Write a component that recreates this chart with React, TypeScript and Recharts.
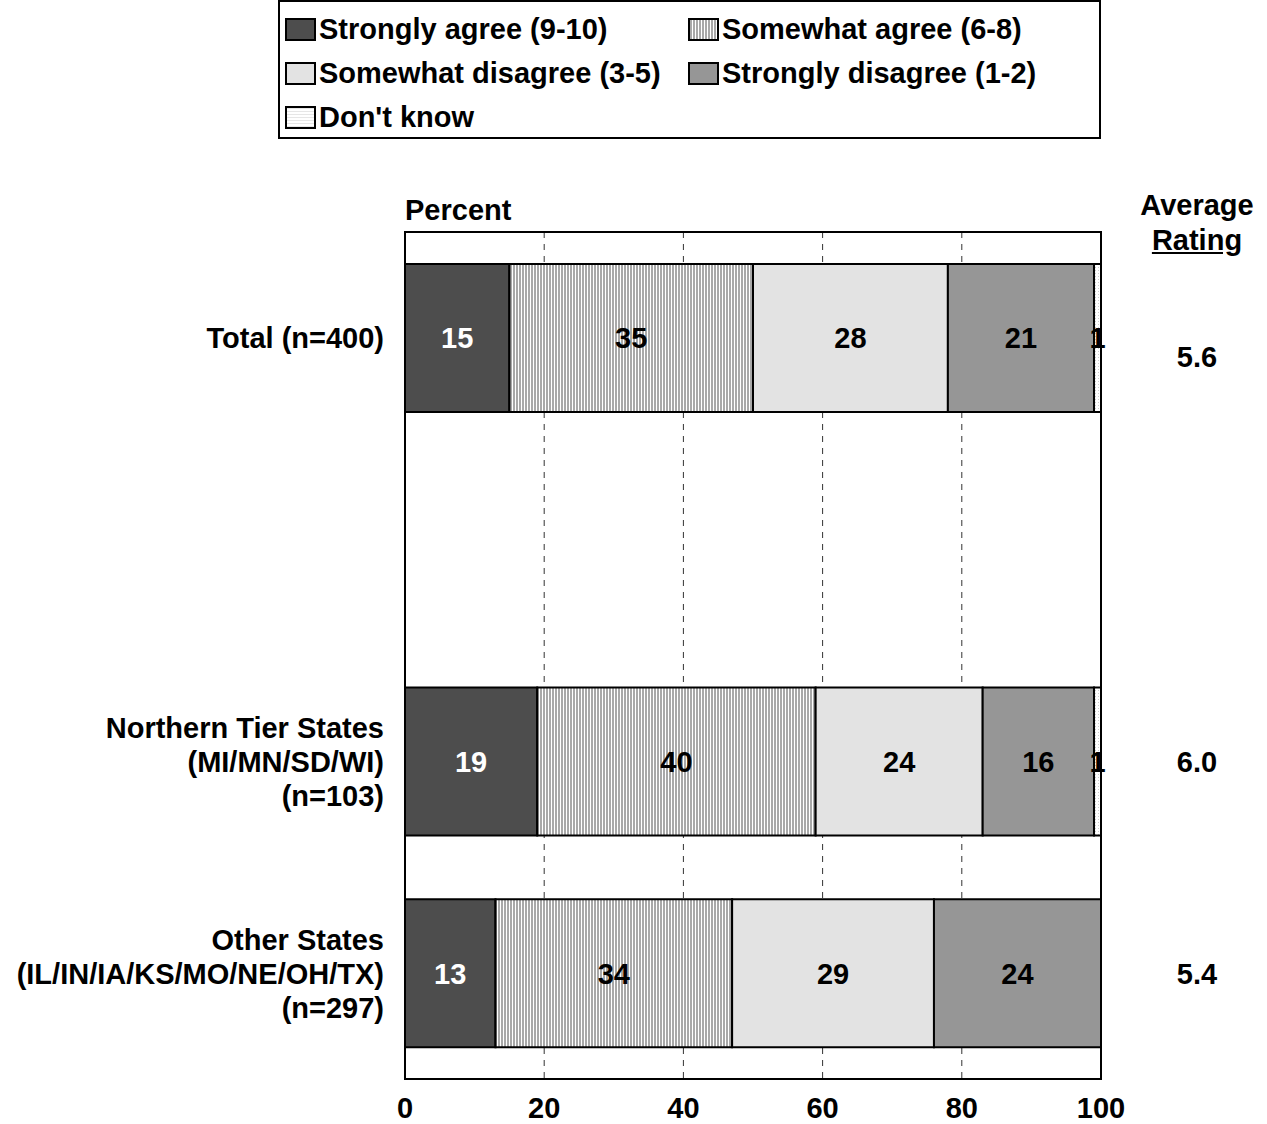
import React from 'react';
import {
  BarChart,
  Bar,
  XAxis,
  YAxis,
  CartesianGrid,
  LabelList,
  ReferenceArea,
} from 'recharts';

const categories = [
  'Total (n=400)',
  '',
  'Northern Tier States\n(MI/MN/SD/WI)\n(n=103)',
  'Other States\n(IL/IN/IA/KS/MO/NE/OH/TX)\n(n=297)',
];
const averageRatings = ['5.6', '', '6.0', '5.4'];

const stronglyAgree = [15, null, 19, 13];
const somewhatAgree = [35, null, 40, 34];
const somewhatDisagree = [28, null, 24, 29];
const stronglyDisagree = [21, null, 16, 24];
const dontKnow = [1, null, 1, 0];

const xTicks = [0, 20, 40, 60, 80, 100];

const series = [
  { key: 'sa', name: 'Strongly agree (9-10)', fill: '#4d4d4d', swatch: '#4d4d4d', labelColor: '#fff' },
  { key: 'swa', name: 'Somewhat agree (6-8)', fill: 'url(#stripes)', swatch: 'repeating-linear-gradient(90deg, #a8a8a8 0 2px, #fff 2px 3px)', labelColor: '#000' },
  { key: 'swd', name: 'Somewhat disagree (3-5)', fill: '#e3e3e3', swatch: '#e3e3e3', labelColor: '#000' },
  { key: 'sd', name: 'Strongly disagree (1-2)', fill: '#969696', swatch: '#969696', labelColor: '#000' },
  { key: 'dk', name: "Don't know", fill: 'url(#dots)', swatch: 'repeating-linear-gradient(0deg, #e6e6e6 0 1px, #fff 1px 3px)', labelColor: '#000' },
];

const data = categories.map((name, i) => ({
  name,
  avg: averageRatings[i],
  sa: stronglyAgree[i],
  swa: somewhatAgree[i],
  swd: somewhatDisagree[i],
  sd: stronglyDisagree[i],
  dk: dontKnow[i],
}));

const FONT = '"Liberation Sans", Arial, sans-serif';
const FS = 29;

const CategoryTick = (props: any) => {
  const { x, y, payload } = props;
  const lines = String(payload.value).split('\n').filter((l) => l);
  const lh = 34;
  return (
    <text x={x} y={y} textAnchor="end" fontFamily={FONT} fontWeight="bold" fontSize={FS} fill="#000">
      {lines.map((l, i) => (
        <tspan key={i} x={x} y={y + (i - (lines.length - 1) / 2) * lh} dy="0.36em">
          {l}
        </tspan>
      ))}
    </text>
  );
};

const RatingTick = (props: any) => {
  const { x, y, payload, index } = props;
  return (
    <text x={x + 96} y={y + (index === 0 ? 19 : 0)} dy="0.36em" textAnchor="middle" fontFamily={FONT} fontWeight="bold" fontSize={FS} fill="#000">
      {payload.value}
    </text>
  );
};

const renderLabel = (color: string) => (props: any) => {
  const { x, y, width, height, value } = props;
  if (!value) return null;
  return (
    <text x={x + width / 2} y={y + height / 2} dy="0.36em" textAnchor="middle" fontFamily={FONT} fontWeight="bold" fontSize={FS} fill={color}>
      {value}
    </text>
  );
};

function LegendBox() {
  return (
    <div
      style={{
        position: 'absolute',
        left: 278,
        top: 0,
        width: 819,
        height: 135,
        border: '2px solid #000',
        fontFamily: FONT,
        fontWeight: 'bold',
        fontSize: FS,
      }}
    >
      {series.map((s, i) => {
        const col = i % 2;
        const row = Math.floor(i / 2);
        return (
          <div
            key={s.key}
            style={{
              position: 'absolute',
              left: col === 0 ? 5 : 408,
              top: 27 + row * 44 - 18,
              height: 36,
              display: 'flex',
              alignItems: 'center',
              whiteSpace: 'nowrap',
            }}
          >
            <span
              style={{
                display: 'inline-block',
                width: 27,
                height: 19,
                border: '2px solid #000',
                background: s.swatch,
                marginRight: 3,
              }}
            />
            <span>{s.name}</span>
          </div>
        );
      })}
    </div>
  );
}

export default function App() {
  return (
    <div style={{ position: 'absolute', left: 0, top: 0, width: 1267, height: 1124, fontFamily: FONT, background: '#fff' }}>
      <LegendBox />
      <div style={{ position: 'absolute', left: 405, top: 194, fontWeight: 'bold', fontSize: FS }}>Percent</div>
      <div style={{ position: 'absolute', left: 1097, width: 200, top: 188, textAlign: 'center', fontWeight: 'bold', fontSize: FS, lineHeight: '35px' }}>
        <div>Average</div>
        <div style={{ textDecoration: 'underline' }}>Rating</div>
      </div>
      <BarChart
        width={1267}
        height={1124}
        data={data}
        layout="vertical"
        margin={{ top: 232, right: 0, bottom: 0, left: 0 }}
        style={{ position: 'absolute', left: 0, top: 0 }}
      >
        <defs>
          <pattern id="stripes" width="3" height="10" patternUnits="userSpaceOnUse">
            <rect width="3" height="10" fill="#fff" />
            <rect width="2" height="10" fill="#a8a8a8" />
          </pattern>
          <pattern id="dots" width="3" height="3" patternUnits="userSpaceOnUse">
            <rect width="3" height="3" fill="#fff" />
            <rect width="1" height="1" fill="#ccc" />
          </pattern>
        </defs>
        <CartesianGrid horizontal={false} vertical stroke="#333" strokeDasharray="6 6" />
        <XAxis
          type="number"
          domain={[0, 100]}
          ticks={xTicks}
          height={45}
          axisLine={{ stroke: '#000', strokeWidth: 2 }}
          tickLine={false}
          tickMargin={12}
          tick={{ fontFamily: FONT, fontWeight: 'bold', fontSize: FS, fill: '#000' }}
        />
        <YAxis
          type="category"
          dataKey="name"
          width={405}
          axisLine={{ stroke: '#000', strokeWidth: 2 }}
          tickLine={false}
          tickMargin={15}
          tick={<CategoryTick />}
          interval={0}
        />
        <YAxis
          yAxisId="right"
          orientation="right"
          type="category"
          dataKey="avg"
          width={166}
          axisLine={{ stroke: '#000', strokeWidth: 2 }}
          tickLine={false}
          tickMargin={0}
          tickSize={0}
          tick={<RatingTick />}
          interval={0}
        />
        {series.map((s) => (
          <Bar
            key={s.key}
            dataKey={s.key}
            name={s.name}
            stackId="a"
            fill={s.fill}
            stroke="#000"
            strokeWidth={2}
            barSize={148}
            isAnimationActive={false}
          >
            <LabelList dataKey={s.key} content={renderLabel(s.labelColor)} />
          </Bar>
        ))}
        <ReferenceArea x1={0} x2={100} fill="none" stroke="#000" strokeWidth={2} ifOverflow="visible" />
      </BarChart>
    </div>
  );
}
